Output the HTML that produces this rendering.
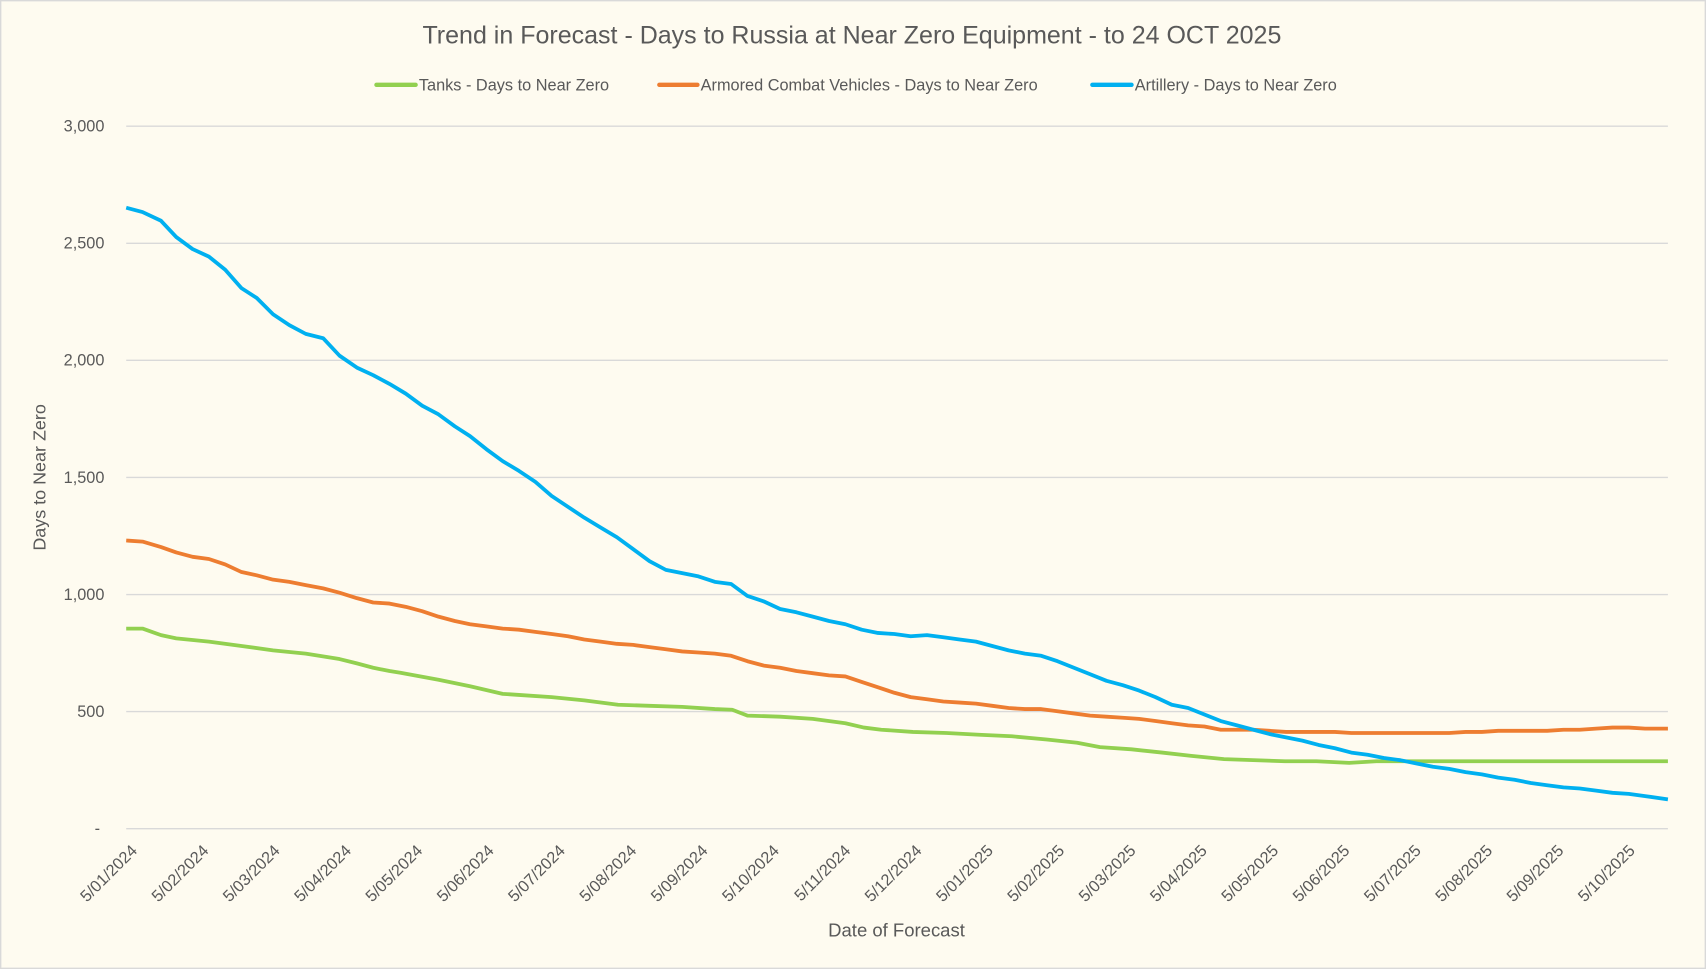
<!DOCTYPE html>
<html><head><meta charset="utf-8"><style>
html,body{margin:0;padding:0;background:#FEFBF0;}
svg{display:block;}
text{font-family:"Liberation Sans",sans-serif;fill:#595959;}
</style></head><body>
<svg width="1706" height="969" viewBox="0 0 1568 891" preserveAspectRatio="none">
<rect x="0.5" y="0.5" width="1567" height="890" fill="#FEFBF0" stroke="#D9D9D9" stroke-width="1.5"/>
<text x="783" y="40" font-size="23" text-anchor="middle">Trend in Forecast - Days to Russia at Near Zero Equipment - to 24 OCT 2025</text>
<g font-size="15">
<line x1="346" y1="78" x2="382" y2="78" stroke="#92D050" stroke-width="4" stroke-linecap="round"/>
<text x="385" y="83">Tanks - Days to Near Zero</text>
<line x1="606" y1="78" x2="641" y2="78" stroke="#ED7D31" stroke-width="4" stroke-linecap="round"/>
<text x="644" y="83">Armored Combat Vehicles - Days to Near Zero</text>
<line x1="1004" y1="78" x2="1040" y2="78" stroke="#00B0F0" stroke-width="4" stroke-linecap="round"/>
<text x="1043" y="83">Artillery - Days to Near Zero</text>
</g>
<g stroke="#D9D9D9" stroke-width="1.3">
<line x1="116" y1="116" x2="1533" y2="116"/>
<line x1="116" y1="223.7" x2="1533" y2="223.7"/>
<line x1="116" y1="331.3" x2="1533" y2="331.3"/>
<line x1="116" y1="439" x2="1533" y2="439"/>
<line x1="116" y1="546.7" x2="1533" y2="546.7"/>
<line x1="116" y1="654.3" x2="1533" y2="654.3"/>
<line x1="116" y1="762" x2="1533" y2="762"/>
</g>
<g font-size="15" text-anchor="end">
<text x="96" y="121">3,000</text>
<text x="96" y="228.7">2,500</text>
<text x="96" y="336.3">2,000</text>
<text x="96" y="444">1,500</text>
<text x="96" y="551.7">1,000</text>
<text x="96" y="659.3">500</text>
<text x="92" y="767">-</text>
</g>
<text transform="translate(42,439) rotate(-90)" font-size="16.5" text-anchor="middle">Days to Near Zero</text>
<text x="824" y="861" font-size="17" text-anchor="middle">Date of Forecast</text>
<g font-size="15" text-anchor="end" id="xt"></g>
<polyline fill="none" stroke="#92D050" stroke-width="3.5" stroke-linejoin="round" points="116,578 131,578 148,584 162,587 192,590 222,594 251,598 281,601 312,606 328,610 343,614 358,617 368,618.6 403,625 432,631 462,638 477,639 507,641 537,644 568,648 597,649 627,650 657,652 673,652.6 687,658 717,659 747,661 777,665 794,669 810,671 839,673 870,674 900,675.6 930,677 962,680 990,683 1011,687 1040,689 1068,692 1095,695 1125,698 1181,700 1210,700 1240,701.5 1265,700 1300,700 1533,700"/>
<polyline fill="none" stroke="#ED7D31" stroke-width="3.5" stroke-linejoin="round" points="116,497 131,498 148,503 162,508 177,512 192,514 207,519 222,526 236,529 251,533 266,535 281,538 297,541 312,545 328,550 343,554 358,555 373,558 388,562 403,567 418,571 432,574 447,576 462,578 477,579 492,581 507,583 522,585 537,588 552,590 567,592 582,593 597,595 612,597 627,599 642,600 657,601 672,603 687,608 702,612 717,614 732,617 747,619 762,621 777,622 792,627 807,632 822,637 837,641 852,643 867,645 882,646 897,647 912,649 927,651 942,652 957,652 972,654 987,656 1002,658 1017,659 1032,660 1047,661 1062,663 1077,665 1092,667 1107,668 1122,671 1137,671 1152,671 1167,672 1182,673 1197,673 1212,673 1227,673 1242,674 1257,674 1272,674 1287,674 1302,674 1317,674 1332,674 1347,673 1362,673 1377,672 1392,672 1407,672 1422,672 1437,671 1452,671 1467,670 1482,669 1497,669 1512,670 1533,670"/>
<polyline fill="none" stroke="#00B0F0" stroke-width="3.5" stroke-linejoin="round" points="116,191 131,195 148,203 162,218 177,229 192,236 207,248 222,265 236,274 251,289 266,299 281,307 297,311 312,327 328,338 343,345 358,353 373,362 388,373 403,381 418,392 432,401 447,413 462,424 477,433 492,443 507,456 522,466 537,476 552,485 567,494 582,505 597,516 612,524 627,527 642,530 657,535 672,537 687,548 702,553 717,560 732,563 747,567 762,571 777,574 792,579 807,582 822,583 837,585 852,584 867,586 882,588 897,590 912,594 927,598 942,601 957,603 972,608 987,614 1002,620 1017,626 1032,630 1047,635 1062,641 1077,648 1092,651 1107,657 1122,663 1137,667 1152,671 1167,675 1182,678 1197,681 1212,685 1227,688 1242,692 1257,694 1272,697 1287,699 1302,702 1317,705 1332,707 1347,710 1362,712 1377,715 1392,717 1407,720 1422,722 1437,724 1452,725 1467,727 1482,729 1497,730 1512,732 1533,735"/>
</svg>
<script>
var labels=["5/01/2024","5/02/2024","5/03/2024","5/04/2024","5/05/2024","5/06/2024","5/07/2024","5/08/2024","5/09/2024","5/10/2024","5/11/2024","5/12/2024","5/01/2025","5/02/2025","5/03/2025","5/04/2025","5/05/2025","5/06/2025","5/07/2025","5/08/2025","5/09/2025","5/10/2025"];
var g=document.getElementById('xt'),ns="http://www.w3.org/2000/svg";
labels.forEach(function(l,i){var x=127+i*65.55,t=document.createElementNS(ns,'text');t.setAttribute('transform','translate('+x+',783) rotate(-45)');t.textContent=l;g.appendChild(t);});
</script>
</body></html>
